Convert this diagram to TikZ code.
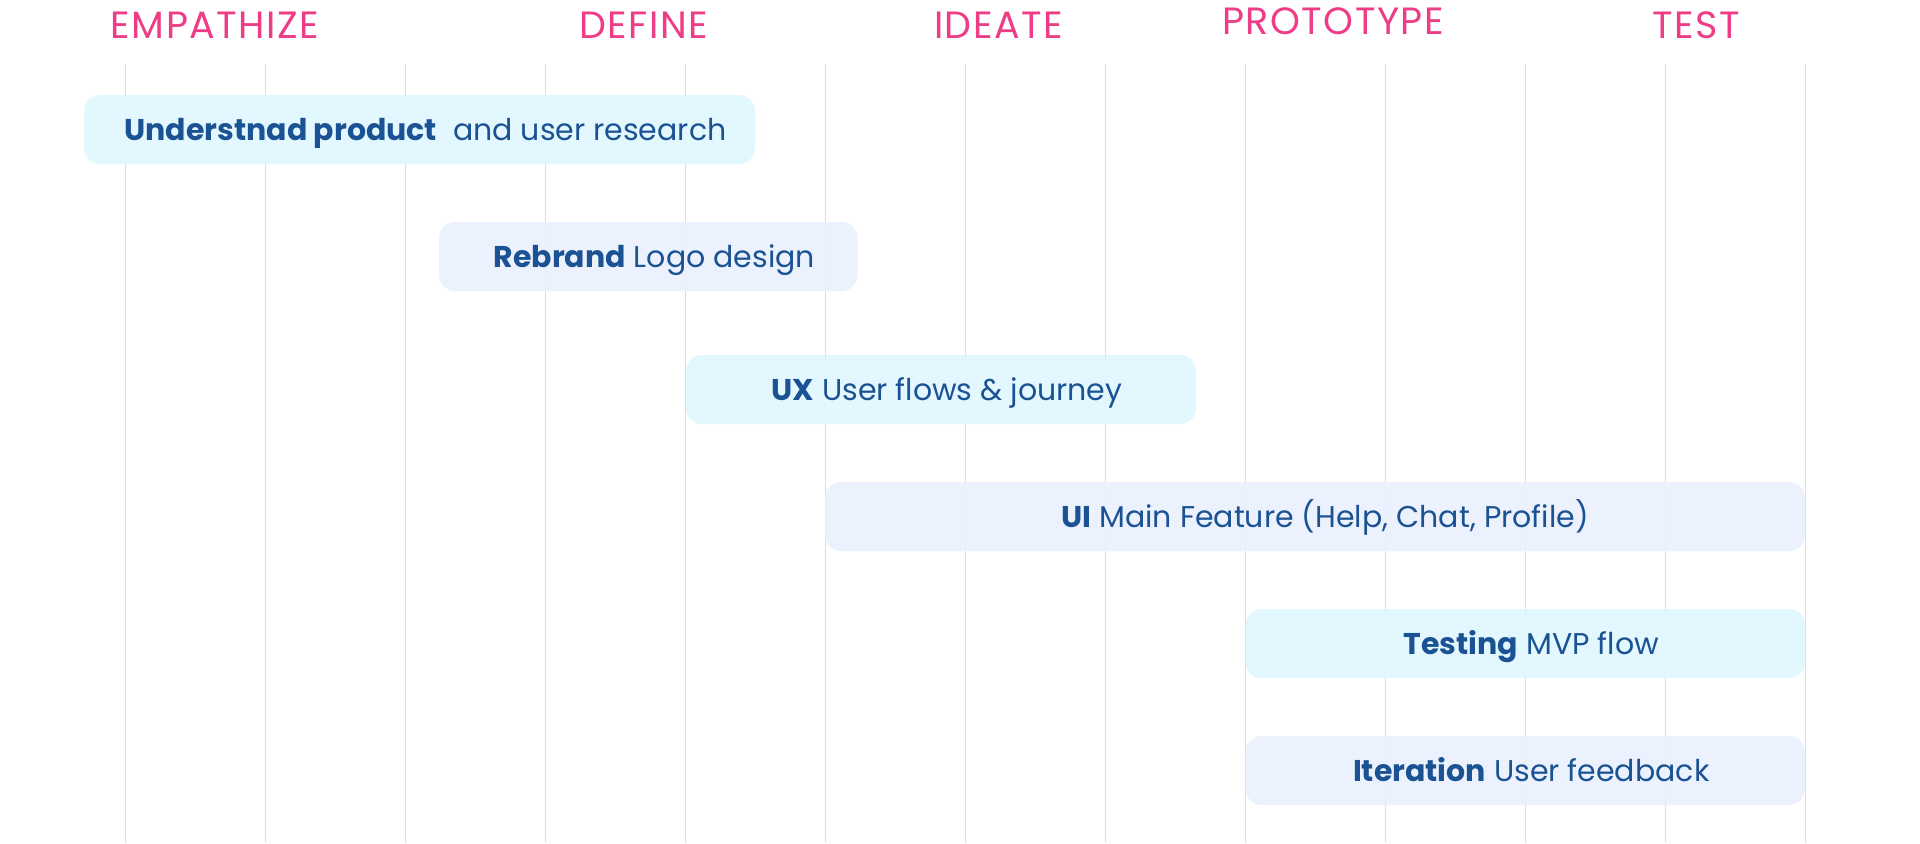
\documentclass[tikz,border=0pt]{standalone}
\usepackage{fontspec}
\setmainfont{Poppins}
\newfontfamily\phasefont[LetterSpace=4]{Poppins}
\definecolor{phasepink}{HTML}{EE3C86}
\definecolor{ink}{HTML}{1A5294}
\definecolor{barcyan}{HTML}{E0F7FE}
\definecolor{barblue}{HTML}{EAF1FD}
\definecolor{gridgray}{HTML}{DDDDDD}
\begin{document}
\begin{tikzpicture}[x=0.5pt,y=-0.5pt,
  phase/.style={text=phasepink,anchor=base,inner sep=0pt,font=\phasefont\fontsize{19}{21}\selectfont},
  task/.style={rounded corners=8pt,minimum height=34.5pt,inner sep=0pt,text=ink,
    text height=10.5pt,text depth=0pt,fill opacity=0.9,text opacity=1,font=\fontsize{15}{17}\selectfont}]
\useasboundingbox (0,0) rectangle (1920,843);
\fill[white] (0,0) rectangle (1920,843);
% grid
\foreach \k in {0,...,12}
  \draw[gridgray,line width=0.6pt] ({125.5+140*\k},64) -- ({125.5+140*\k},843);
% phases
\node[phase] (empathize) at (215,38) {EMPATHIZE};
\node[phase] (define) at (643.5,38) {DEFINE};
\node[phase] (ideate) at (998.5,38) {IDEATE};
\node[phase] (prototype) at (1333,34) {PROTOTYPE};
\node[phase] (test) at (1696,38) {TEST};
% tasks
\node[task,fill=barcyan,minimum width=335.5pt] (understand) at (419.5,129.5)
  {\hspace*{6pt}\textbf{Understnad product}\ \ and user research};
\node[task,fill=barblue,minimum width=209.25pt] (rebrand) at (648.25,256.5)
  {\hspace*{6pt}\textbf{Rebrand} Logo design};
\node[task,fill=barcyan,minimum width=255pt] (ux) at (941,389.5)
  {\hspace*{6pt}\textbf{UX} User flows \& journey};
\node[task,fill=barblue,minimum width=490pt] (ui) at (1315,516.5)
  {\hspace*{10pt}\textbf{UI} Main Feature (Help, Chat, Profile)};
\node[task,fill=barcyan,minimum width=279.75pt] (testing) at (1525.25,643.5)
  {\hspace*{6pt}\textbf{Testing} MVP flow};
\node[task,fill=barblue,minimum width=279.75pt] (iteration) at (1525.25,770.5)
  {\hspace*{6pt}\textbf{Iteration} User feedback};
\end{tikzpicture}
\end{document}
